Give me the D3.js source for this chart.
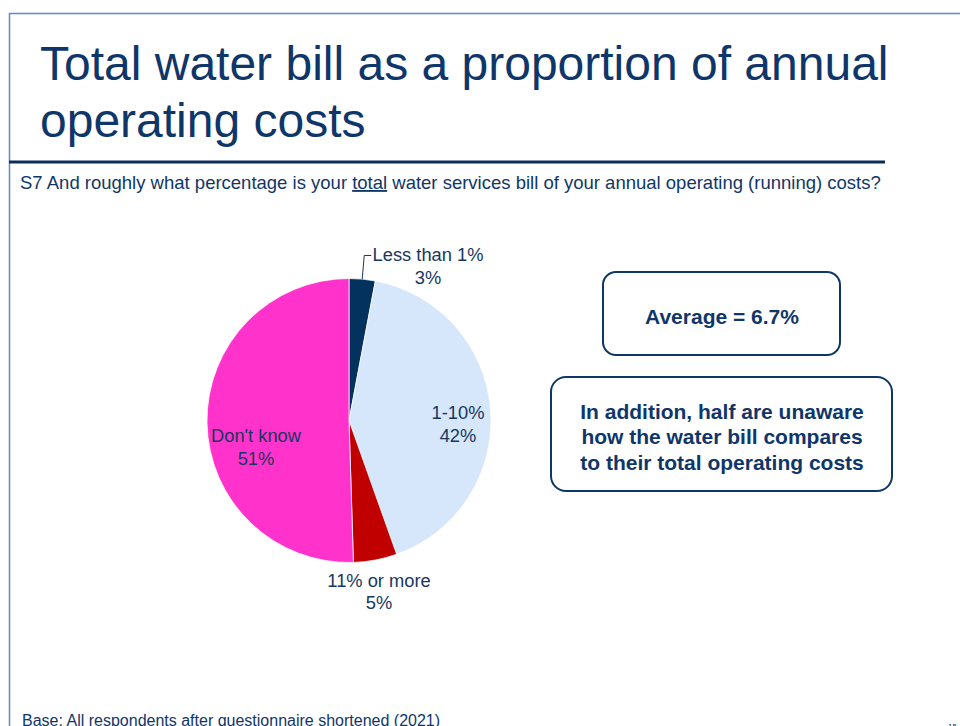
<!DOCTYPE html>
<html>
<head>
<meta charset="utf-8">
<script src="https://cdn.jsdelivr.net/npm/d3@7"></script>
<style>
  html, body { margin: 0; padding: 0; background: #fff; }
  svg { display: block; font-family: Arial, "Liberation Sans", sans-serif; }
</style>
</head>
<body>
<svg id="chart" width="960" height="726"></svg>
<script>
// Survey responses (S7), in clockwise order from 12 o'clock
const categories = ["Less than 1%", "1-10%", "11% or more", "Don't know"];
const shares = [3, 42, 5, 51];
const shareLabels = ["3%", "42%", "5%", "51%"];
const sliceColors = ["#04325f", "#d6e6fb", "#c00000", "#ff33cc"];

const titleLines = ["Total water bill as a proportion of annual", "operating costs"];
const calloutAverage = "Average = 6.7%";
const calloutNote = ["In addition, half are unaware", "how the water bill compares", "to their total operating costs"];
const baseNote = "Base: All respondents after questionnaire shortened (2021)";

const navy = "#0f3669";
const svg = d3.select("#chart");

// Slide frame
svg.append("line").attr("x1", 9).attr("x2", 960).attr("y1", 13.5).attr("y2", 13.5)
  .attr("stroke", "#5b8bd0").attr("stroke-width", 1.5);
svg.append("line").attr("x1", 9.5).attr("x2", 9.5).attr("y1", 13).attr("y2", 726)
  .attr("stroke", "#5b8bd0").attr("stroke-width", 1.5);

// Title
svg.append("g").selectAll("text").data(titleLines).join("text")
  .attr("x", 40).attr("y", (d, i) => 80 + i * 57)
  .attr("fill", navy).attr("font-size", 48).text(d => d);

svg.append("line").attr("x1", 9).attr("x2", 885).attr("y1", 162).attr("y2", 162)
  .attr("stroke", "#0b2d5a").attr("stroke-width", 3);

// Question text with underlined "total"
const q = svg.append("text").attr("x", 20).attr("y", 189).attr("fill", navy).attr("font-size", 18.5);
q.append("tspan").text("S7 And roughly what percentage is your ");
q.append("tspan").attr("text-decoration", "underline").text("total");
q.append("tspan").text(" water services bill of your annual operating (running) costs?");

// Pie
const cx = 349, cy = 420.5, R = 142;
const pie = d3.pie().sort(null).value(d => d.v);
const arcs = pie(shares.map((v, i) => ({ v, i })));
const arc = d3.arc().innerRadius(0).outerRadius(R);
const g = svg.append("g").attr("transform", `translate(${cx},${cy})`);
g.selectAll("path").data(arcs).join("path")
  .attr("d", arc)
  .attr("fill", d => sliceColors[d.data.i])
  .attr("stroke", "#ffffff").attr("stroke-width", 0.75);

// Label positions relative to pie centre
const labelPos = [
  { x: 79, y: -159.5 },
  { x: 109, y: -1.5 },
  { x: 30, y: 166 },
  { x: -93, y: 21.5 }
];
arcs.forEach(a => {
  const p = labelPos[a.data.i];
  const t = g.append("text").attr("text-anchor", "middle").attr("fill", "#17375e").attr("font-size", 18.3);
  t.append("tspan").attr("x", p.x).attr("y", p.y).text(categories[a.data.i]);
  t.append("tspan").attr("x", p.x).attr("y", p.y + 22.5).text(shareLabels[a.data.i]);
});

// Leader line for the smallest slice
const a0 = arcs[0];
const mid = (a0.startAngle + a0.endAngle) / 2;
const sx = Math.sin(mid) * R, sy = -Math.cos(mid) * R;
g.append("polyline")
  .attr("points", `${sx},${sy} ${sx + 2},${-165} ${sx + 9},${-165}`)
  .attr("fill", "none").attr("stroke", "#17375e").attr("stroke-width", 1);

// Callout boxes
svg.append("rect").attr("x", 603).attr("y", 272).attr("width", 237).attr("height", 83)
  .attr("rx", 13).attr("fill", "#fff").attr("stroke", navy).attr("stroke-width", 2);
svg.append("text").attr("x", 722).attr("y", 323.5).attr("text-anchor", "middle")
  .attr("fill", navy).attr("font-size", 21).attr("font-weight", "bold").text(calloutAverage);

svg.append("rect").attr("x", 551).attr("y", 377).attr("width", 341).attr("height", 114)
  .attr("rx", 15).attr("fill", "#fff").attr("stroke", navy).attr("stroke-width", 2);
svg.append("g").selectAll("text").data(calloutNote).join("text")
  .attr("x", 722).attr("y", (d, i) => 418.5 + i * 25.5).attr("text-anchor", "middle")
  .attr("fill", navy).attr("font-size", 21).attr("font-weight", "bold").text(d => d);

// Footer
svg.append("text").attr("x", 22).attr("y", 726).attr("fill", navy).attr("font-size", 16).text(baseNote);
svg.append("text").attr("x", 948).attr("y", 729).attr("fill", navy).attr("font-size", 8).text("15");
</script>
</body>
</html>
